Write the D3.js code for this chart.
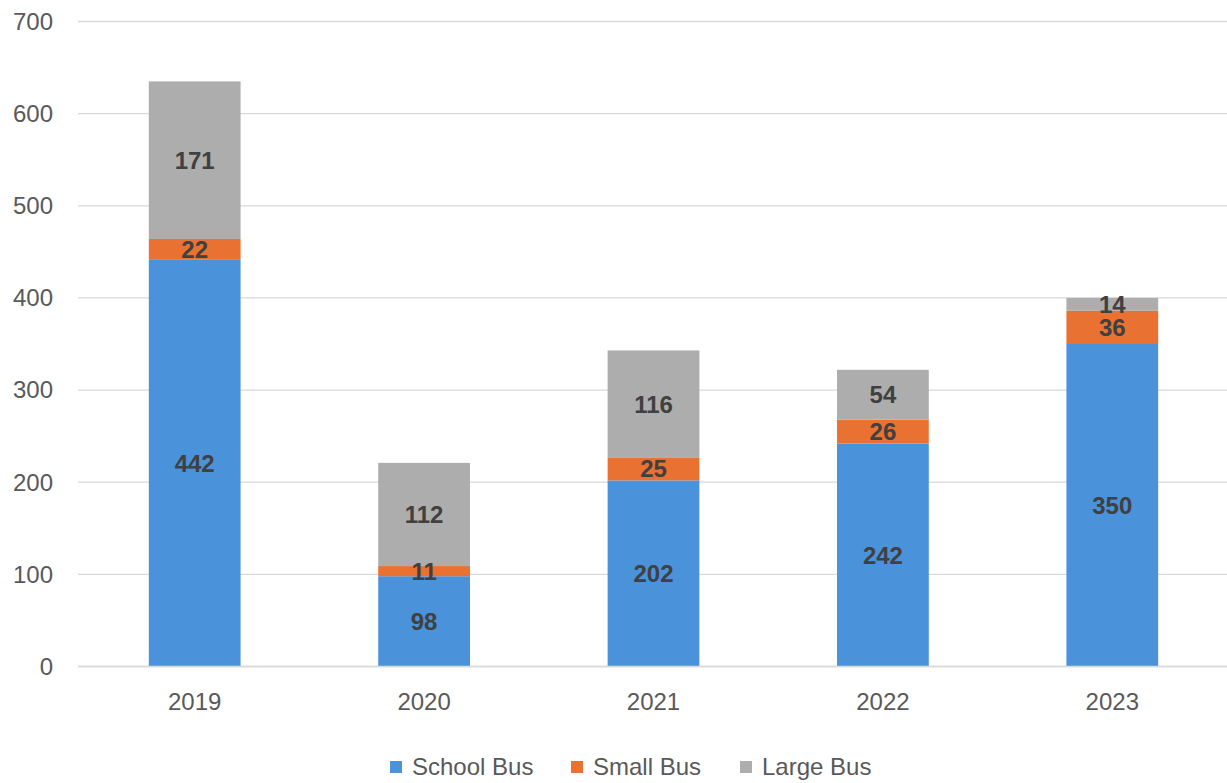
<!DOCTYPE html>
<html><head><meta charset="utf-8">
<script src="https://cdn.jsdelivr.net/npm/d3@7"></script>
<style>body{margin:0;background:#fff;}svg{display:block;}</style>
</head><body><svg id="c" width="1227" height="783"></svg>
<script>
const years = ["2019","2020","2021","2022","2023"];
const schoolBus = [442, 98, 202, 242, 350];
const smallBus = [22, 11, 25, 26, 36];
const largeBus = [171, 112, 116, 54, 14];
const seriesNames = ["School Bus","Small Bus","Large Bus"];
const colors = ["#4A92DA","#E97132","#ADADAD"];
const yTicks = [0,100,200,300,400,500,600,700];

const svg = d3.select("#c");
const font = "'Liberation Sans', Arial, sans-serif";
const x = d3.scaleBand().domain(years).range([80,1227]).paddingInner(0.6).paddingOuter(0.3);
const y = d3.scaleLinear().domain([0,700]).range([666.5,21.5]);

svg.append("g").selectAll("line").data(yTicks).join("line")
  .attr("x1",78).attr("x2",1227).attr("y1",d=>y(d)).attr("y2",d=>y(d))
  .attr("stroke","#D9D9D9").attr("stroke-width",1.3);
svg.append("g").selectAll("text").data(yTicks).join("text")
  .attr("x",53).attr("y",d=>y(d)).attr("dy","0.35em").attr("text-anchor","end")
  .attr("font-family",font).attr("font-size",24).attr("fill","#595959").text(d=>d);

const rows = years.map((yr,i)=>({year:yr, "School Bus":schoolBus[i], "Small Bus":smallBus[i], "Large Bus":largeBus[i]}));
const stacked = d3.stack().keys(seriesNames)(rows);

stacked.forEach((s,si)=>{
  svg.append("g").selectAll("rect").data(s).join("rect")
    .attr("x",d=>x(d.data.year)).attr("width",x.bandwidth())
    .attr("y",d=>y(d[1])).attr("height",d=>y(d[0])-y(d[1]))
    .attr("fill",colors[si]);
});
stacked.forEach((s,si)=>{
  svg.append("g").selectAll("text").data(s).join("text")
    .attr("x",d=>x(d.data.year)+x.bandwidth()/2)
    .attr("y",d=>(y(d[0])+y(d[1]))/2).attr("dy","0.36em")
    .attr("text-anchor","middle").attr("font-family",font).attr("font-weight","bold")
    .attr("font-size",24).attr("fill","#404040")
    .text(d=>d[1]-d[0]);
});
svg.append("line").attr("x1",78).attr("x2",1227).attr("y1",y(0)).attr("y2",y(0)).attr("stroke","#D9D9D9").attr("stroke-width",1.3);
svg.append("g").selectAll("text").data(years).join("text")
  .attr("x",d=>x(d)+x.bandwidth()/2).attr("y",702).attr("dy","0.35em")
  .attr("text-anchor","middle").attr("font-family",font).attr("font-size",24).attr("fill","#595959").text(d=>d);

const legX = [390, 571, 740];
const lg = svg.append("g");
seriesNames.forEach((n,i)=>{
  lg.append("rect").attr("x",legX[i]).attr("y",761).attr("width",12).attr("height",12).attr("fill",colors[i]);
  lg.append("text").attr("x",legX[i]+22).attr("y",767).attr("dy","0.35em").attr("font-family",font)
    .attr("font-size",24).attr("fill","#595959").text(n);
});
</script></body></html>
